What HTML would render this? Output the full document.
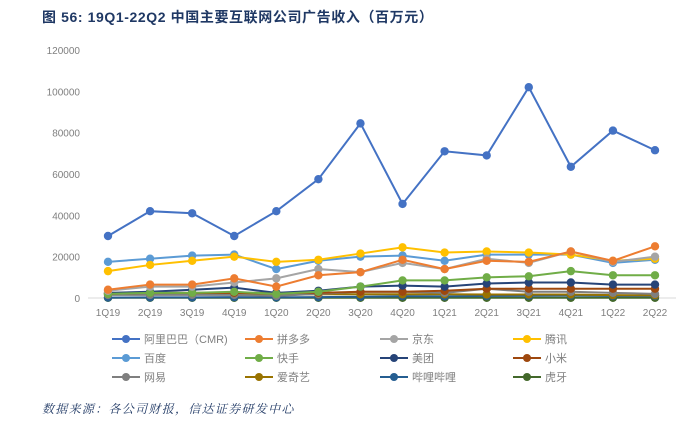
<!DOCTYPE html>
<html><head><meta charset="utf-8"><style>
body{margin:0;background:#fff;width:687px;height:427px;overflow:hidden;font-family:"Liberation Sans","Noto Sans CJK SC",sans-serif}
</style></head><body>
<svg id="c" width="687" height="427">
<text x="42" y="22" font-size="14" font-weight="bold" fill="#1f3864" letter-spacing="0.6" font-family="Liberation Sans,Noto Sans CJK SC,sans-serif">图 56:  19Q1-22Q2 中国主要互联网公司广告收入（百万元）</text>
<g id="grid"></g><g id="series"></g><g id="legend"></g>
<text x="42" y="413" font-size="12" font-style="italic" fill="#1f3864" letter-spacing="1.3" font-family="Noto Serif CJK SC,serif">数据来源：各公司财报，信达证券研发中心</text>
</svg>
<script>
const categories=["1Q19","2Q19","3Q19","4Q19","1Q20","2Q20","3Q20","4Q20","1Q21","2Q21","3Q21","4Q21","1Q22","2Q22"];
const yTicks=[0,20000,40000,60000,80000,100000,120000];
const names=["阿里巴巴（CMR)","拼多多","京东","腾讯","百度","快手","美团","小米","网易","爱奇艺","哔哩哔哩","虎牙"];
const colors=["#4472c4","#ed7d31","#a5a5a5","#ffc000","#5b9bd5","#70ad47","#264478","#9e480e","#7f7f7f","#997300","#255e91","#43682b"];
const alibaba=[30000,42000,41000,30000,42000,57500,84500,45500,71000,69000,102000,63500,81000,71500];
const pdd=[4000,6500,6500,9500,5500,11000,12500,18500,14000,18000,17500,22500,18000,25000];
const jd=[3500,5500,5500,7500,9500,14000,12500,17000,14000,19000,17000,22500,17500,20000];
const tencent=[13000,16000,18000,20000,17500,18500,21500,24500,22000,22500,22000,21000,18000,19000];
const baidu=[17500,19000,20500,21000,14000,18000,20000,20500,18000,21000,21000,21000,17000,18500];
const kuaishou=[2000,2500,2500,3000,2000,3000,5500,8500,8500,10000,10500,13000,11000,11000];
const meituan=[2500,3000,4000,5000,2500,3500,5500,6000,5500,7000,7500,7500,6500,6500];
const xiaomi=[2000,2500,2500,2500,2500,2500,3000,3000,3500,4500,4500,4500,4500,4500];
const netease=[1500,1500,1500,1500,1000,2000,3000,3000,2500,4500,3000,3000,2500,2000];
const iqiyi=[2200,2300,2300,2000,1700,1800,1800,1800,1800,1700,1700,1700,1400,1300];
const bilibili=[200,300,300,400,300,400,600,900,800,1000,1100,1200,1000,1000];
const huya=[100,100,100,100,100,100,100,100,100,100,100,100,100,100];
const series=[alibaba,pdd,jd,tencent,baidu,kuaishou,meituan,xiaomi,netease,iqiyi,bilibili,huya];
const keys=["alibaba","pdd","jd","tencent","baidu","kuaishou","meituan","xiaomi","netease","iqiyi","bilibili","huya"];
const NS="http://www.w3.org/2000/svg";
const x=i=>108+i*(547/13);
const y=v=>298-v*(248/120000);
function mk(t,a,p){const e=document.createElementNS(NS,t);for(const k in a)e.setAttribute(k,a[k]);p.appendChild(e);return e;}
const g=document.getElementById('grid');
const ax=mk('line',{x1:88,x2:676,y1:y(0),y2:y(0),stroke:'#d9d9d9','stroke-width':1},g);


yTicks.forEach(v=>{const t=mk('text',{x:80,y:y(v)+4,'font-size':10,fill:'#7f7f7f','text-anchor':'end'},g);t.textContent=v;

});
categories.forEach((c,i)=>{const t=mk('text',{x:x(i),y:316,'font-size':10,fill:'#7f7f7f','text-anchor':'middle'},g);t.textContent=c;

});
const sg=document.getElementById('series');
for(let s=series.length-1;s>=0;s--){const d=series[s];const gg=mk('g',{},sg);


mk('polyline',{points:d.map((v,i)=>x(i)+','+y(v)).join(' '),fill:'none',stroke:colors[s],'stroke-width':2},gg);
d.forEach((v,i)=>{const c=mk('circle',{cx:x(i),cy:y(v),r:4.2,fill:colors[s]},gg);

});}
const lg=document.getElementById('legend');
const colX=[112,245,380,513],rowY=[339,358,377];
names.forEach((n,i)=>{const cx=colX[i%4],cy=rowY[Math.floor(i/4)];const e=mk('g',{},lg);


mk('line',{x1:cx,x2:cx+28,y1:cy,y2:cy,stroke:colors[i],'stroke-width':2},e);
mk('circle',{cx:cx+14,cy:cy,r:4,fill:colors[i]},e);
const t=mk('text',{x:cx+32,y:cy+4,'font-size':11,fill:'#7f7f7f'},e);t.textContent=n;});
</script>
</body></html>
